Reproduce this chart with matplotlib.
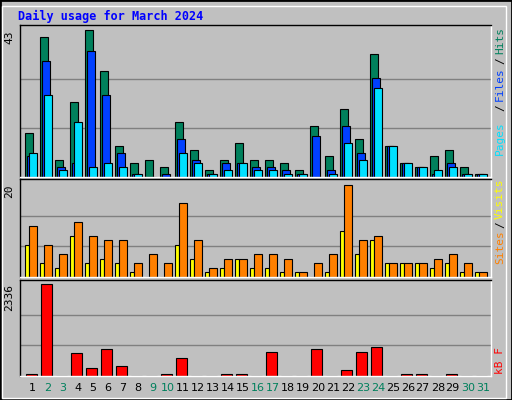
import matplotlib
matplotlib.use("Agg")
import matplotlib.pyplot as plt
from matplotlib.patches import Rectangle

days = list(range(1, 32))
hits  = [13,41,5,22,43,31,9,4,5,3,16,8,2,5,10,5,5,4,2,15,6,20,11,36,9,4,3,6,8,3,1]
files = [6,34,3,4,37,24,7,1,0,1,11,5,1,4,4,3,3,2,1,12,2,15,7,29,9,4,3,1,4,1,1]
pages = [7,24,2,16,3,4,3,1,0,0,7,4,1,2,4,2,2,1,1,0,1,10,5,26,9,4,3,2,3,1,1]
visits = [7,3,2,9,3,4,3,1,0,0,7,4,1,2,4,2,2,1,1,0,1,10,5,8,3,3,3,2,3,1,1]
sites  = [11,7,5,12,9,8,8,3,5,3,16,8,2,4,4,5,5,4,1,3,5,20,8,9,3,3,3,4,5,3,1]
kbytes = [51,2336,0,597,213,700,264,0,0,51,469,0,0,51,51,0,623,0,0,700,0,162,623,751,0,51,51,0,51,0,0]
weekend = [2,3,9,10,16,17,23,24,30,31]

W, H = 512, 400
fig = plt.figure(figsize=(W/100, H/100), dpi=100)
fig.patch.set_facecolor("#C0C0C0")
BG = "#C0C0C0"
mono = "DejaVu Sans Mono"

def ax_at(x0, y0, x1, y1):
    return fig.add_axes([x0/W, 1-y1/H, (x1-x0)/W, (y1-y0)/H])

# outer border
fig.add_artist(Rectangle((0, 0), 1, 1, transform=fig.transFigure, fill=False, ec="black", lw=2))
fig.add_artist(Rectangle((2/W, 2/H), 1-8/W, 1-8/H, transform=fig.transFigure, fill=False, ec="white", lw=1))

def setup(ax, ymax, label_max, gridmax):
    ax.set_facecolor(BG)
    ax.set_xlim(0.65, 32.05)
    ax.set_ylim(0, ymax)
    ax.set_xticks([]); ax.set_yticks([])
    for y in (gridmax/3, 2*gridmax/3):
        ax.axhline(y, color="#808080", lw=1, zorder=0)
    for s in ax.spines.values():
        s.set_color("black"); s.set_linewidth(1)
    ax.spines["bottom"].set_color("white"); ax.spines["right"].set_color("white")
    ax.text(-0.012, gridmax/ymax, str(label_max), transform=ax.transAxes, rotation=90,
            ha="right", va="top", fontsize=8, family=mono)

kw = dict(edgecolor="black", linewidth=0.8, align="edge")

ax1 = ax_at(20, 25, 491, 177)
setup(ax1, 43*152/147, 43, 43)
ax1.bar([d for d in days], hits, width=0.49, color="#00805C", **kw)
ax1.bar([d+0.13 for d in days], files, width=0.49, color="#0040FF", **kw)
ax1.bar([d+0.27 for d in days], pages, width=0.49, color="#00E0FF", **kw)

ax2 = ax_at(20, 179, 491, 277)
setup(ax2, 20*98/92, 20, 20)
ax2.bar([d for d in days], visits, width=0.27, color="#FFFF00", **kw)
ax2.bar([d+0.27 for d in days], sites, width=0.49, color="#FF8000", **kw)

ax3 = ax_at(20, 280, 491, 376)
setup(ax3, 2336*96/91.7, 2336, 2336)
ax3.bar([d+0.05 for d in days], kbytes, width=0.7, color="#FF0000", **kw)

for d in days:
    ax3.text(d+0.5, -0.07, str(d), transform=ax3.get_xaxis_transform(), ha="center", va="top",
             fontsize=8, family="DejaVu Sans",
             color="#00805C" if d in weekend else "black")

fig.text(18/W, 1-16/H, "Daily usage for March 2024", color="#0000FF", fontsize=8.5,
         fontweight="bold", family=mono, ha="left", va="center")

def rtext(y, s, c):
    fig.text(500/W, 1-y/H, s, rotation=90, color=c, fontsize=8, family=mono, ha="center", va="center")

rtext(40, "Hits", "#00805C"); rtext(61, "/", "black"); rtext(84, "Files", "#0040FF")
rtext(108, "/", "black"); rtext(138, "Pages", "#00E0FF")
rtext(199, "Visits", "#FFFF00"); rtext(225, "/", "black"); rtext(247, "Sites", "#FF8000")
rtext(360, "kB F", "#FF0000")

fig.savefig("out.png", dpi=100, facecolor=fig.get_facecolor())
